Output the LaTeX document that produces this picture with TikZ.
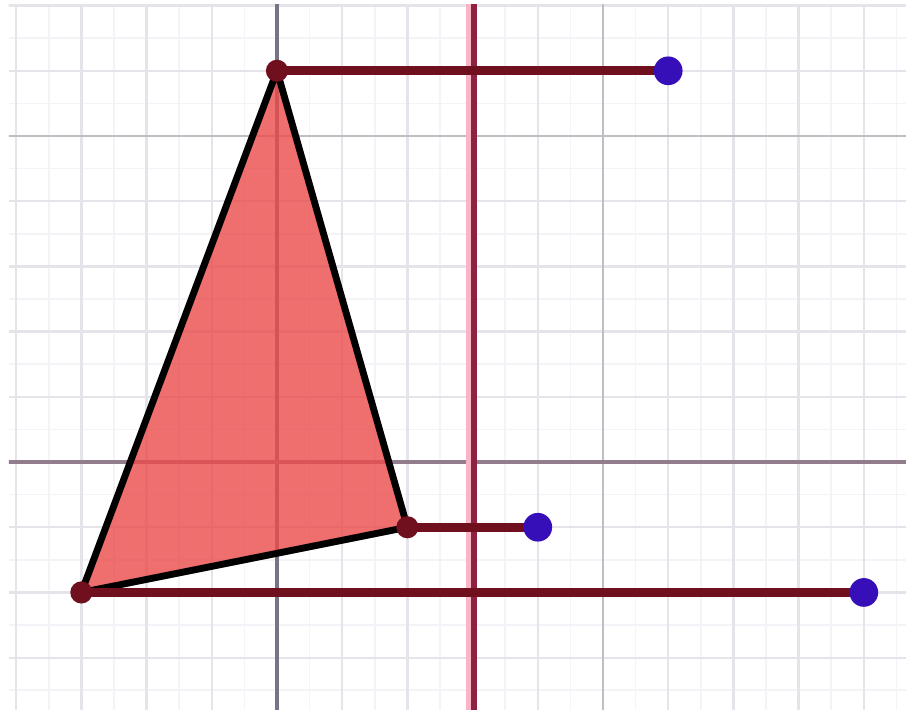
\documentclass[tikz,border=0pt]{standalone}
\begin{document}
\begin{tikzpicture}[x=1cm,y=1cm,
  halfgrid/.style={draw=halfgray,line width=0.7pt},
  unitgrid/.style={draw=unitgray,line width=1pt},
  majorgrid/.style={draw=majorgray,line width=1.2pt},
  axisline/.style={line width=1.4pt},
  tri/.style={fill=trifill,fill opacity=0.8,draw=black,line width=3pt,line join=round},
  seg/.style={draw=segred,line width=4pt},
  vdot/.style={circle,fill=segred,inner sep=0pt,minimum size=0.34cm},
  bdot/.style={circle,fill=dotblue,inner sep=0pt,minimum size=0.44cm}]
\definecolor{halfgray}{RGB}{244,244,248}
\definecolor{unitgray}{RGB}{228,228,234}
\definecolor{majorgray}{RGB}{190,190,196}
\definecolor{yaxisgray}{RGB}{120,115,135}
\definecolor{xaxisgray}{RGB}{145,125,140}
\definecolor{trifill}{RGB}{235,75,75}
\definecolor{segred}{RGB}{112,16,30}
\definecolor{dotblue}{RGB}{55,15,185}
\definecolor{mirrorred}{RGB}{140,35,65}
\definecolor{mirrorpink}{RGB}{250,180,200}
\useasboundingbox (-4.248,-3.788) rectangle (9.647,7.086);
\fill[white] (-4.248,-3.788) rectangle (9.647,7.086);
\begin{scope}
\clip (-4.11,-3.788) rectangle (9.647,7.02);
\foreach \v in {-4.5,-3.5,...,9.5} {
  \draw[halfgrid] (\v,-4) -- (\v,7.5);
}
\foreach \v in {-3.5,-2.5,...,7.5} {
  \draw[halfgrid] (-5,\v) -- (10,\v);
}
\foreach \v in {-4,...,9} {
  \draw[unitgrid] (\v,-4) -- (\v,7.5);
}
\foreach \v in {-3,...,7} {
  \draw[unitgrid] (-5,\v) -- (10,\v);
}
\draw[majorgrid] (5,-4) -- (5,7.5);
\draw[majorgrid] (-5,5) -- (10,5);
\draw[axisline,draw=yaxisgray] (0,-4) -- (0,7.5);
\draw[axisline,draw=xaxisgray] (-5,0) -- (10,0);
\draw[draw=mirrorpink,line width=2.5pt] (2.95,-4) -- (2.95,7.5);
\draw[draw=mirrorred,line width=2.6pt] (3.02,-4) -- (3.02,7.5);
\end{scope}
\coordinate (A) at (0,6);
\coordinate (B) at (-3,-2);
\coordinate (C) at (2,-1);
\coordinate (A') at (6,6);
\coordinate (B') at (9,-2);
\coordinate (C') at (4,-1);
\draw[tri] (A) -- (B) -- (C) -- cycle;
\draw[seg] (A) -- (A');
\draw[seg] (C) -- (C');
\draw[seg] (B) -- (B');
\node[vdot] (a) at (A) {};
\node[vdot] (b) at (B) {};
\node[vdot] (c) at (C) {};
\node[bdot] (a1) at (A') {};
\node[bdot] (b1) at (B') {};
\node[bdot] (c1) at (C') {};
\end{tikzpicture}
\end{document}
